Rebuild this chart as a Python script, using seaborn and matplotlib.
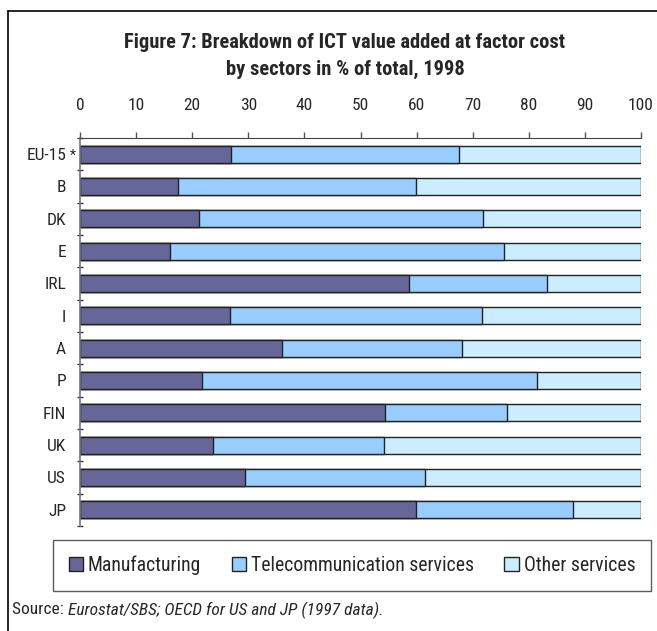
import numpy as np
import pandas as pd

import matplotlib
matplotlib.use('Agg')
import matplotlib.pyplot as plt
import seaborn as sns
from matplotlib.patches import Patch
from matplotlib.lines import Line2D
from matplotlib import font_manager


countries = ["EU-15", "B", "DK", "E", "IRL", "I", "A", "P", "FIN", "UK", "US", "JP"]
manufacturing = [26.9, 17.4, 21.2, 16.0, 58.6, 26.7, 36.0, 21.7, 54.3, 23.7, 29.5, 59.9]
telecom = [40.7, 42.5, 50.7, 59.5, 24.7, 44.9, 32.1, 59.7, 21.8, 30.4, 32.0, 27.9]
other = [32.4, 40.1, 28.1, 24.5, 16.7, 28.4, 31.9, 18.6, 23.9, 45.9, 38.5, 12.2]

sectors = ["Manufacturing", "Telecommunication services", "Other services"]
colors = ["#666699", "#99CCFF", "#CCECFF"]
x_ticks = list(range(0, 101, 10))

sns.set_style("white")
installed = {f.name for f in font_manager.fontManager.ttflist}
narrow = [f for f in ['Liberation Sans Narrow', 'DejaVu Sans Condensed',
                      'Roboto Condensed', 'Open Sans Condensed'] if f in installed]
plt.rcParams['font.family'] = narrow + ['Liberation Sans', 'DejaVu Sans']

df = pd.DataFrame({"country": countries, "m": manufacturing,
                   "t": telecom, "o": other})
df["c1"] = df["m"]
df["c2"] = df["m"] + df["t"]
df["c3"] = df["m"] + df["t"] + df["o"]

fig = plt.figure(figsize=(6.57, 6.31), dpi=100)
ax = fig.add_axes([80 / 657, 1 - 526 / 631, 561 / 657, 388 / 631])

# stacked bars drawn as cumulative layers, widest first
for col, color in zip(["c3", "c2", "c1"], colors[::-1]):
    sns.barplot(data=df, x=col, y="country", color=color, orient="h",
                width=0.53, edgecolor="#222222", linewidth=1.0,
                saturation=1, ax=ax)

ax.set_xlim(0, 100)
ax.set_ylim(len(countries) - 0.5, -0.5)
ax.set_xlabel("")
ax.set_ylabel("")
ax.xaxis.tick_top()
ax.set_xticks(x_ticks)
ax.set_xticklabels([str(v) for v in x_ticks], fontsize=12.5)
ax.tick_params(axis="x", which="both", top=True, bottom=False, length=4,
               width=1, color="#555555", pad=14)

for s in ["right", "bottom"]:
    ax.spines[s].set_visible(False)
ax.spines["top"].set_color("#444444")
ax.spines["left"].set_color("#777777")
ax.spines["left"].set_linewidth(1.2)

ax.set_yticks(range(len(countries)))
ax.set_yticklabels(countries, fontsize=12.5)
ax.tick_params(axis="y", which="major", length=0, pad=10)
# category boundary ticks crossing the left axis
ax.set_yticks(np.arange(-0.5, len(countries), 1), minor=True)
ax.tick_params(axis="y", which="minor", length=4, width=1, color="#333333",
               direction="inout", left=True)
ax.text(-0.8, 0.05, "*", ha="right", va="center", fontsize=10,
        transform=ax.transData, clip_on=False)

# figure border (top and left)
fig.add_artist(Line2D([8 / 657, 1], [1 - 11 / 631, 1 - 11 / 631],
                      color="black", lw=1.2, transform=fig.transFigure))
fig.add_artist(Line2D([8 / 657, 8 / 657], [0, 1 - 11 / 631],
                      color="black", lw=1.2, transform=fig.transFigure))

fig.text(345 / 657, 1 - 42 / 631, "Figure 7: Breakdown of ICT value added at factor cost",
         ha="center", va="center", fontsize=14.8, fontweight="bold")
fig.text(345 / 657, 1 - 69 / 631, "by sectors in % of total, 1998",
         ha="center", va="center", fontsize=14.8, fontweight="bold")

handles = [Patch(facecolor=c, edgecolor="#222222", linewidth=1) for c in colors]
leg = fig.legend(handles, sectors, ncol=3, loc="center",
                 bbox_to_anchor=(352 / 657, 1 - 565.5 / 631),
                 fontsize=14.2, frameon=True, fancybox=False, edgecolor="#333333",
                 handlelength=0.72, handleheight=0.72, handletextpad=0.25,
                 columnspacing=1.55, borderpad=0.8, borderaxespad=0)
leg.get_frame().set_linewidth(1.0)

t1 = fig.text(12 / 657, 1 - 610 / 631, "Source: ", ha="left", va="center",
              fontsize=12.5)
fig.canvas.draw()
bb = t1.get_window_extent()
fig.text(bb.x1 / fig.bbox.width, 1 - 610 / 631,
         "Eurostat/SBS; OECD for US and JP (1997 data).",
         ha="left", va="center", fontsize=12.5, style="italic")

fig.savefig("out.png", dpi=100)
